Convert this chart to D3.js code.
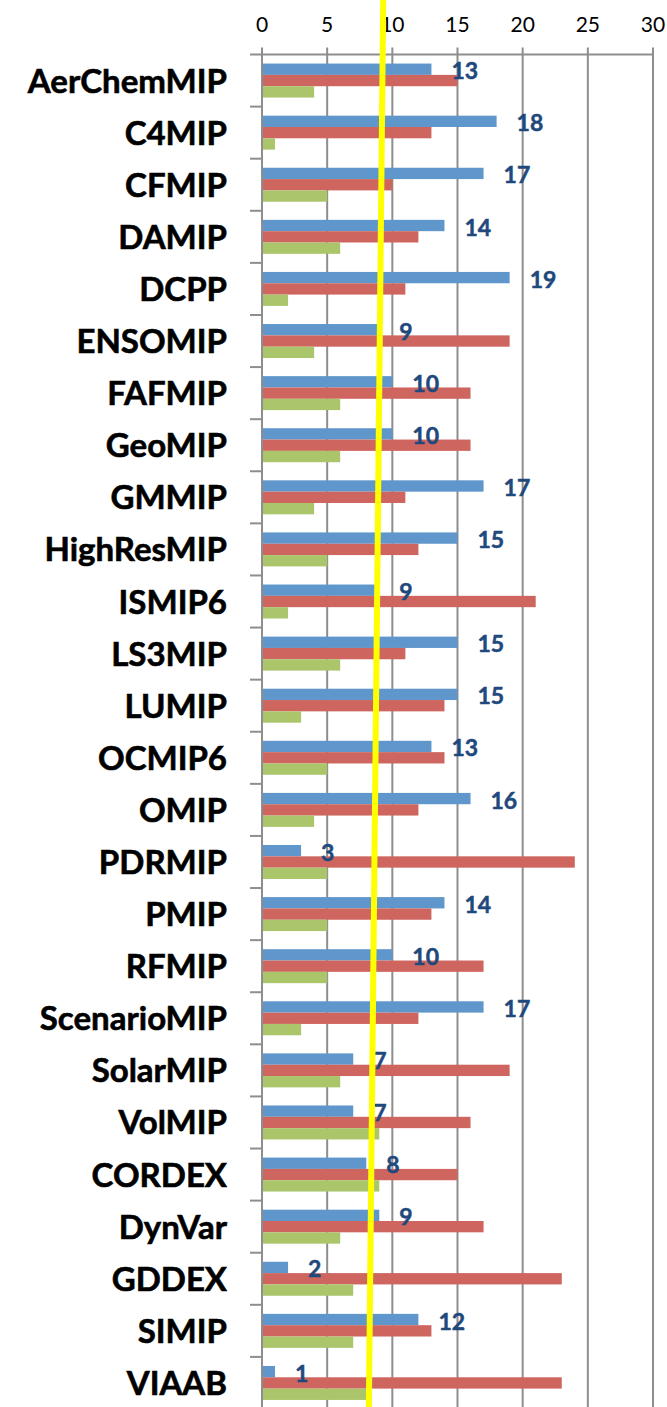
<!DOCTYPE html>
<html>
<head>
<meta charset="utf-8">
<script src="https://cdn.jsdelivr.net/npm/d3@7"></script>
<style>
  html, body { margin: 0; padding: 0; background: #fff; }
</style>
</head>
<body>
<div id="chart"></div>
<script>
// MIPs (top to bottom)
const categories = ["AerChemMIP", "C4MIP", "CFMIP", "DAMIP", "DCPP", "ENSOMIP", "FAFMIP", "GeoMIP",
    "GMMIP", "HighResMIP", "ISMIP6", "LS3MIP", "LUMIP", "OCMIP6", "OMIP", "PDRMIP", "PMIP", "RFMIP",
    "ScenarioMIP", "SolarMIP", "VolMIP", "CORDEX", "DynVar", "GDDEX", "SIMIP", "VIAAB"];

// three series per MIP
const blueValues  = [13, 18, 17, 14, 19, 9, 10, 10, 17, 15, 9, 15, 15, 13, 16, 3, 14, 10, 17, 7, 7, 8, 9, 2, 12, 1];
const redValues   = [15, 13, 10, 12, 11, 19, 16, 16, 11, 12, 21, 11, 14, 14, 12, 24, 13, 17, 12, 19, 16, 15, 17, 23, 13, 23];
const greenValues = [4, 1, 5, 6, 2, 4, 6, 6, 4, 5, 2, 6, 3, 5, 4, 5, 5, 5, 3, 6, 9, 9, 6, 7, 7, 8];

const seriesNames = ["blue", "red", "green"];
const xTicks = [0, 5, 10, 15, 20, 25, 30];

// hand-drawn yellow marker, value at top and bottom of the picture
const markerValues = [9.3, 8.2];

const width = 667, height = 1407;
const colors = { blue: "#5F96CB", red: "#CE665F", green: "#ABC56B" };

const svg = d3.select("#chart").append("svg")
    .attr("width", width)
    .attr("height", height)
    .style("display", "block");

const x = d3.scaleLinear().domain([0, 30]).range([262, 653]);
const y = d3.scaleBand().domain(categories).range([54.5, 1409]);
const yInner = d3.scaleBand().domain(seriesNames).range([0, y.bandwidth()]).paddingOuter(0.8);

const rows = categories.map((name, i) => ({
    name,
    blue: blueValues[i],
    red: redValues[i],
    green: greenValues[i]
}));

const font = "Lato, 'Open Sans', sans-serif";

// vertical gridlines with small ticks above the axis line
svg.append("g")
    .selectAll("line")
    .data(xTicks)
    .join("line")
    .attr("x1", d => x(d))
    .attr("x2", d => x(d))
    .attr("y1", y.range()[0] - 7)
    .attr("y2", y.range()[1])
    .attr("stroke", "#8e8e8e")
    .attr("stroke-width", 2);

// top axis line
svg.append("line")
    .attr("x1", 250)
    .attr("x2", x(30))
    .attr("y1", y.range()[0])
    .attr("y2", y.range()[0])
    .attr("stroke", "#8e8e8e")
    .attr("stroke-width", 2);

// tick labels
svg.append("g")
    .style("font", `21px ${font}`)
    .selectAll("text")
    .data(xTicks)
    .join("text")
    .attr("x", d => x(d))
    .attr("y", 32)
    .attr("text-anchor", "middle")
    .attr("fill", "#000")
    .text(d => d);

// category ticks between rows
svg.append("g")
    .selectAll("line")
    .data(categories.slice(1))
    .join("line")
    .attr("x1", 250)
    .attr("x2", x(0))
    .attr("y1", d => y(d))
    .attr("y2", d => y(d))
    .attr("stroke", "#8e8e8e")
    .attr("stroke-width", 2);

// bars
const groups = svg.append("g")
    .selectAll("g")
    .data(rows)
    .join("g")
    .attr("transform", d => `translate(0,${y(d.name)})`);

groups.selectAll("rect")
    .data(d => seriesNames.map(k => ({ key: k, value: d[k] })))
    .join("rect")
    .attr("x", x(0) + 1)
    .attr("y", d => yInner(d.key))
    .attr("width", d => Math.max(0, x(d.value) - x(0) - 1))
    .attr("height", yInner.bandwidth())
    .attr("fill", d => colors[d.key]);

// category axis line
svg.append("line")
    .attr("x1", x(0))
    .attr("x2", x(0))
    .attr("y1", y.range()[0])
    .attr("y2", y.range()[1])
    .attr("stroke", "#8e8e8e")
    .attr("stroke-width", 2);

// category labels
svg.append("g")
    .style("font", `bold 33px ${font}`)
    .selectAll("text")
    .data(categories)
    .join("text")
    .attr("x", 227)
    .attr("y", d => y(d) + y.bandwidth() / 2 + 12)
    .attr("text-anchor", "end")
    .attr("fill", "#000")
    .attr("stroke", "#000")
    .attr("stroke-width", 0.6)
    .text(d => d);

// blue value labels
svg.append("g")
    .style("font", `bold 23px ${font}`)
    .selectAll("text")
    .data(rows)
    .join("text")
    .attr("x", d => x(d.blue) + 20)
    .attr("y", d => y(d.name) + yInner("blue") + yInner.bandwidth() / 2 + 10)
    .attr("fill", "#1F497D")
    .attr("stroke", "#1F497D")
    .attr("stroke-width", 0.5)
    .text(d => d.blue);

// yellow marker line
svg.append("line")
    .attr("x1", x(markerValues[0]))
    .attr("x2", x(markerValues[1]))
    .attr("y1", 0)
    .attr("y2", height)
    .attr("stroke", "#FFFF00")
    .attr("stroke-width", 6);
</script>
</body>
</html>
